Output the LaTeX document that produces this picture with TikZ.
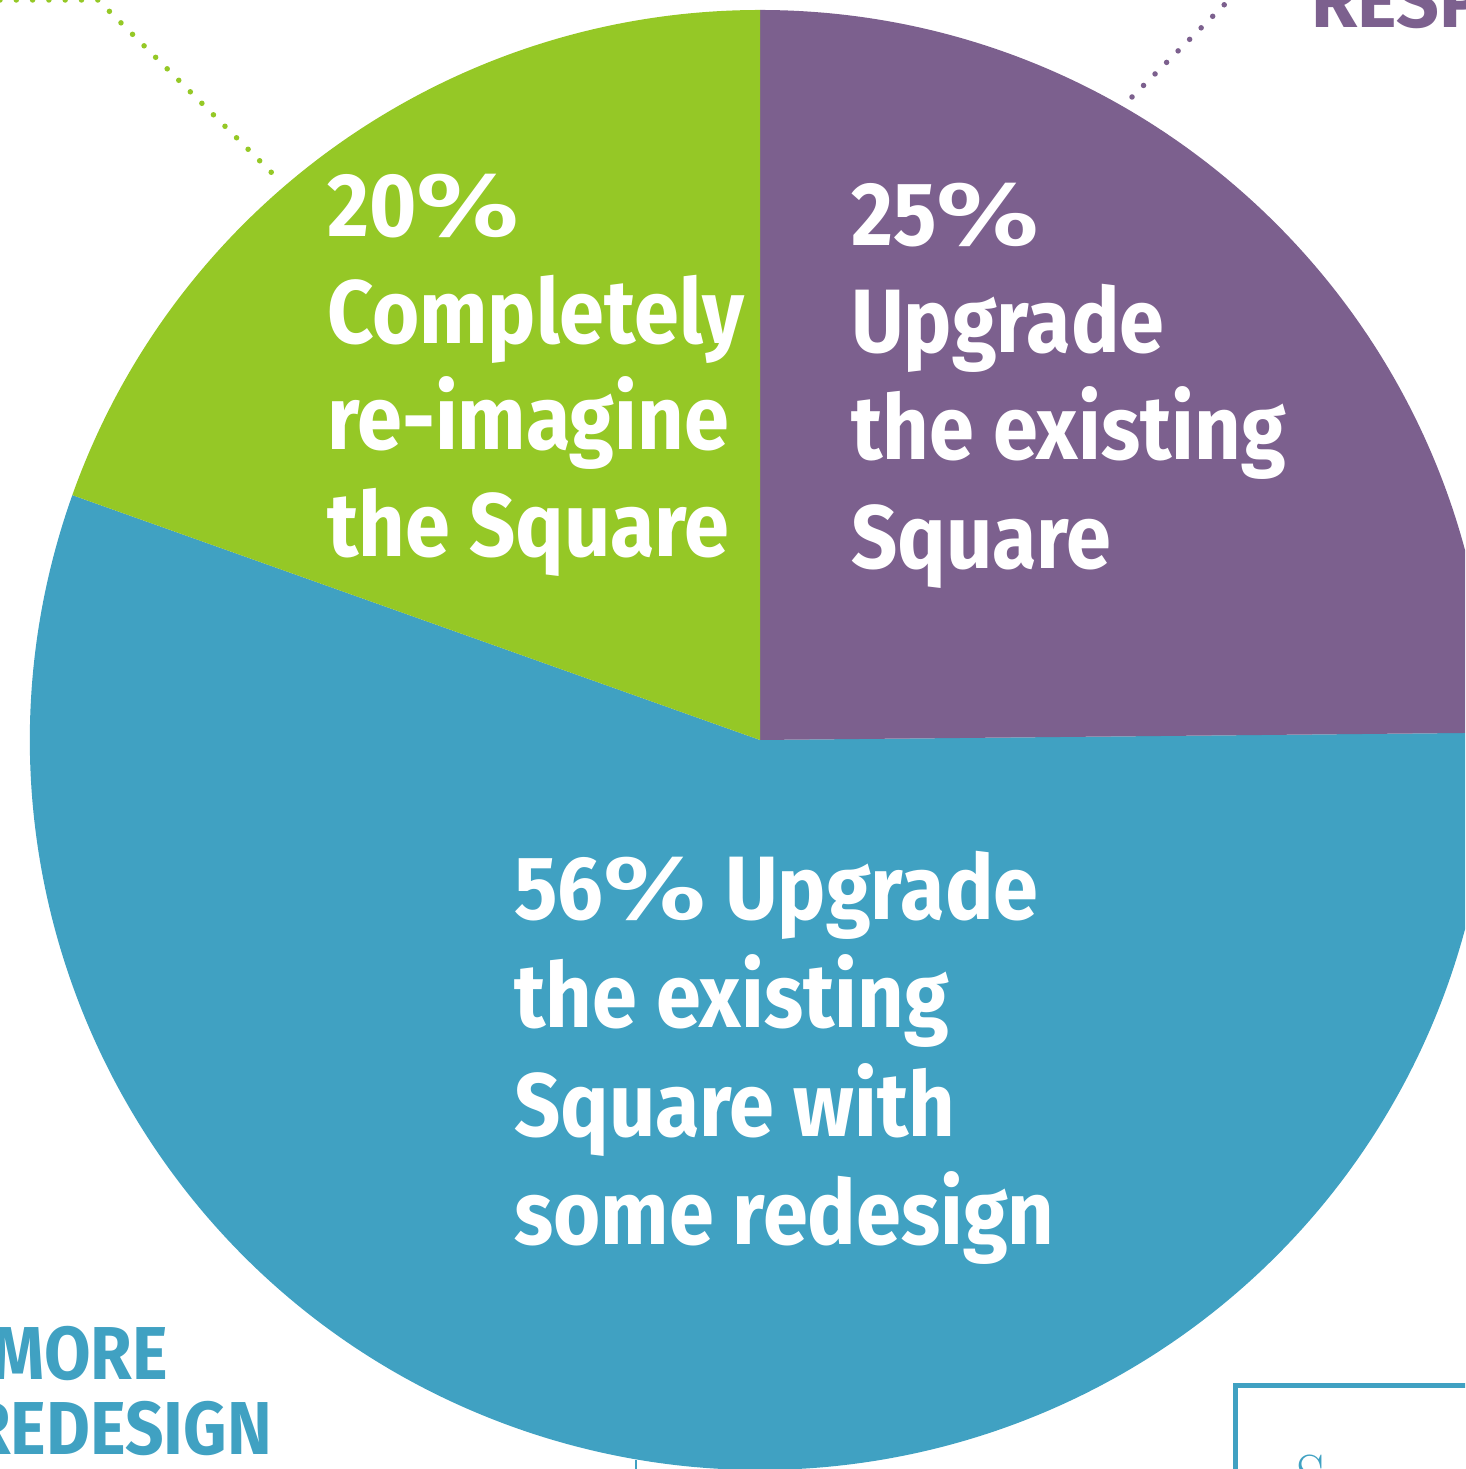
\documentclass[tikz,border=0pt]{standalone}
\usepackage{fontspec}
\usepackage{graphicx}
\newfontfamily\pief[FakeStretch=0.9]{Fira Sans}
\newfontfamily\piew{Fira Sans}
\newfontfamily\pcfont{DejaVu Sans}
\newcommand{\pcsign}{\scalebox{1.22}[1]{\pcfont\bfseries\fontsize{84}{107}\selectfont\%}}
\definecolor{pgreen}{RGB}{149,200,38}
\definecolor{ppurple}{RGB}{124,96,142}
\definecolor{pblue}{RGB}{64,161,194}
\begin{document}
\begin{tikzpicture}[x=1pt,y=1pt,
  pietext/.style={font=\pief\bfseries\fontsize{90}{107}\selectfont, text=white, inner sep=0pt, anchor=base west},
  sidetext/.style={font=\pief\bfseries\fontsize{75}{80}\selectfont, inner sep=0pt},
  dotline/.style={line width=5.5pt, line cap=round, dash pattern=on 0pt off 16.3pt}]
\useasboundingbox (0,0) rectangle (1465,1469);
\clip (0,0) rectangle (1465,1469);
\coordinate (c) at (760,729);
% slices
\fill[pblue] (c) -- ++(160.4:730) arc[start angle=160.4,end angle=360.57,radius=730] -- cycle;
\fill[ppurple] (c) -- ++(0.57:730) arc[start angle=0.57,end angle=90,radius=730] -- cycle;
\fill[pgreen] (c) -- ++(90:730) arc[start angle=90,end angle=160.4,radius=730] -- cycle;
% dotted leaders
\coordinate (g0) at (0,1469);
\coordinate (g1) at (98,1469);
\coordinate (g2) at (279,1289);
\draw[dotline, pgreen] (g0) -- (g1) -- (g2);
\coordinate (p0) at (1132,1372);
\coordinate (p1) at (1245,1485);
\draw[dotline, ppurple] (p0) -- (p1);
% green texts
\node[pietext] (g20) at (327,1232) {20\pcsign};
\node[pietext] (gl2) at (327,1125) {Completely};
\node[pietext] (gl3) at (327,1019) {re-imagine};
\node[pietext] (gl4) at (327,912) {the Square};
% purple texts
\node[pietext] (p25) at (851,1223) {25\pcsign};
\node[pietext] (pl2) at (851,1116) {Upgrade};
\node[pietext] (pl3) at (851,1009) {the existing};
\node[pietext] (pl4) at (851,900) {Square};
% blue texts
\node[pietext] (b56) at (514,549) {56\pcsign{} Upgrade};
\node[pietext] (bl2) at (514,441) {the existing};
\node[pietext] (bl3) at (514,332) {Square with};
\node[pietext] (bl4) at (514,224) {some redesign};
% side labels
\node[sidetext, text=pblue, anchor=base east] (more) at (168,89) {MORE};
\node[sidetext, text=pblue, anchor=base east] (redesign) at (272,14) {REDESIGN};
\node[font=\piew\bfseries\fontsize{75}{80}\selectfont, inner sep=0pt, text=ppurple, anchor=base west] (resp) at (1311,1441) {RESP};
% box bottom right
\draw[pblue, line width=5pt] (1235.5,-20) rectangle (1520,83.5);
\node[font=\fontsize{58}{60}\selectfont, text=pblue, anchor=north west, inner sep=0pt] (s) at (1296,14) {S};
\coordinate (t0) at (636,0);
\coordinate (t1) at (636,9);
\draw[pblue, line width=2pt] (t0) -- (t1);
\end{tikzpicture}
\end{document}
